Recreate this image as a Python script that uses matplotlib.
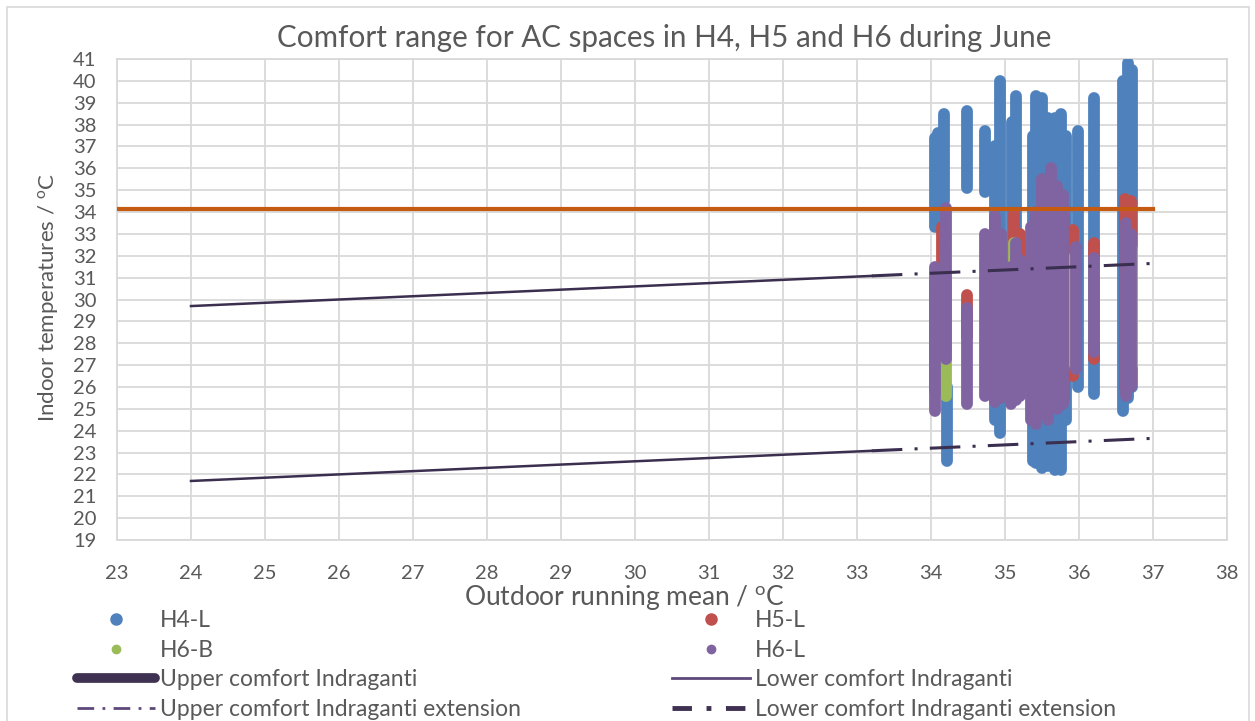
import matplotlib
matplotlib.use('Agg')
import matplotlib.pyplot as plt
from matplotlib.lines import Line2D
from matplotlib.patches import Rectangle

plt.rcParams['font.family'] = ['Lato', 'DejaVu Sans']
plt.rcParams['mathtext.fontset'] = 'custom'
plt.rcParams['mathtext.rm'] = 'Lato'
plt.rcParams['mathtext.it'] = 'Lato:italic'

TXT = '#595959'
GRID = '#d9d9d9'

# measured columns of points: x position, lowest and highest indoor temperature
h4l_x = [34.06, 34.10, 34.18, 34.22, 34.49, 34.73, 34.86, 34.93, 35.10, 35.15, 35.38,
         35.42, 35.50, 35.58, 35.68, 35.76, 35.82, 35.99, 36.20, 36.60, 36.66, 36.72]
h4l_lo = [33.3, 33.5, 34.5, 22.6, 35.1, 34.9, 24.5, 23.9, 25.5, 26.0, 22.6,
          22.5, 22.3, 22.4, 22.2, 22.2, 24.5, 26.0, 25.7, 24.9, 25.5, 26.0]
h4l_hi = [37.4, 37.6, 38.5, 26.0, 38.6, 37.7, 37.0, 40.0, 38.1, 39.3, 37.5,
          39.3, 39.2, 38.3, 38.3, 38.5, 37.5, 37.7, 39.2, 40.0, 40.8, 40.5]

h5l_x = [34.06, 34.15, 34.49, 34.75, 34.90, 35.12, 35.20, 35.55, 35.72, 35.80, 35.92, 36.20, 36.62, 36.70]
h5l_lo = [25.8, 26.5, 28.3, 27.0, 26.0, 25.5, 26.0, 25.0, 25.3, 25.5, 26.5, 27.3, 26.0, 26.2]
h5l_hi = [30.8, 33.3, 30.2, 32.9, 33.0, 33.9, 33.0, 34.8, 34.5, 33.8, 33.2, 32.6, 34.6, 34.5]

h6b_x = [34.12, 34.20, 34.78, 34.92, 35.12, 35.45, 35.65, 35.95, 36.20, 36.66, 36.72]
h6b_lo = [27.0, 25.6, 26.5, 26.2, 26.0, 25.5, 26.2, 27.0, 28.0, 26.5, 27.0]
h6b_hi = [30.0, 31.0, 32.5, 32.8, 32.6, 32.5, 33.0, 32.0, 31.8, 32.8, 32.3]

h6l_x = [34.06, 34.20, 34.49, 34.73, 34.87, 34.95, 35.08, 35.15, 35.20, 35.35, 35.42,
         35.50, 35.58, 35.62, 35.70, 35.78, 35.96, 36.20, 36.64, 36.70]
h6l_lo = [24.9, 27.3, 25.2, 25.6, 25.3, 25.5, 25.2, 25.4, 25.6, 24.5, 24.3,
          24.8, 24.5, 25.0, 25.0, 25.2, 26.8, 27.6, 25.6, 26.0]
h6l_hi = [31.5, 34.2, 29.6, 33.0, 33.8, 33.0, 31.5, 32.6, 31.8, 33.3, 34.0,
          35.5, 35.2, 36.0, 35.2, 34.8, 32.4, 31.9, 33.5, 33.0]

# comfort lines
orange_x = [23, 37]
orange_y = [34.14, 34.14]
comfort_x = [24, 33.2]
upper_y = [29.70, 31.08]
lower_y = [21.70, 23.08]
ext_x = [33.2, 37]
upper_ext_y = [31.08, 31.65]
lower_ext_y = [23.08, 23.65]

series = [
    ('H4-L', '#4f81bd', h4l_x, h4l_lo, h4l_hi),
    ('H5-L', '#c0504d', h5l_x, h5l_lo, h5l_hi),
    ('H6-B', '#9bbb59', h6b_x, h6b_lo, h6b_hi),
    ('H6-L', '#8064a2', h6l_x, h6l_lo, h6l_hi),
]

fig = plt.figure(figsize=(12.55, 7.21), dpi=100)
fig.patches.append(Rectangle((7 / 1255, -0.02), 1242 / 1255, 1 - 7 / 721 + 0.02,
                             transform=fig.transFigure, fill=False, ec=GRID, lw=1.2))
ax = fig.add_axes([117 / 1255, 1 - 540 / 721, 1110 / 1255, 481 / 721])

for name, col, xs, lo, hi in series:
    for x, a, b in zip(xs, lo, hi):
        ax.plot([x, x], [a, b], color=col, lw=8.5, solid_capstyle='round', zorder=3)

ax.plot(orange_x, orange_y, color='#c55a11', lw=3, zorder=4)
ax.plot(comfort_x, upper_y, color='#3b2f4f', lw=1.8, zorder=5)
ax.plot(comfort_x, lower_y, color='#3b2f4f', lw=1.8, zorder=5)
ax.plot(ext_x, upper_ext_y, color='#3b2f4f', lw=2.2, zorder=5, dashes=(10, 4, 1, 4))
ax.plot(ext_x, lower_ext_y, color='#3b2f4f', lw=2.2, zorder=5, dashes=(10, 4, 1, 4))

ax.set_xlim(23, 38)
ax.set_ylim(19, 41)
ax.set_xticks(range(23, 39))
ax.set_yticks(range(19, 42))
ax.grid(True, color=GRID, lw=1.3, zorder=0)
ax.set_axisbelow(True)
for s in ax.spines.values():
    s.set_color(GRID)
    s.set_linewidth(1.3)
ax.tick_params(length=0, labelsize=14.5, colors=TXT)
ax.tick_params(axis='y', pad=15)
ax.tick_params(axis='x', pad=18)

fig.text(664 / 1255, 1 - 38 / 721, 'Comfort range for AC spaces in H4, H5 and H6 during June',
         ha='center', va='center', fontsize=21.3, color=TXT)
fig.text(624 / 1255, 1 - 597 / 721, r'Outdoor running mean / $^\mathrm{o}$C',
         ha='center', va='center', fontsize=19, color=TXT)
fig.text(48 / 1255, 1 - 298 / 721, r'Indoor temperatures / $^\mathrm{o}$C',
         ha='center', va='center', rotation=90, fontsize=16, color=TXT)

left_handles = [
    Line2D([], [], ls='none', marker='o', ms=8, color='#4f81bd'),
    Line2D([], [], ls='none', marker='o', ms=6, color='#9bbb59'),
    Line2D([], [], color='#3f3151', lw=7, solid_capstyle='round'),
    Line2D([], [], color='#5f497a', lw=2, dashes=(6, 3, 1, 3)),
]
left_labels = ['H4-L', 'H6-B', 'Upper comfort Indraganti', 'Upper comfort Indraganti extension']
right_handles = [
    Line2D([], [], ls='none', marker='o', ms=8, color='#c0504d'),
    Line2D([], [], ls='none', marker='o', ms=6, color='#8064a2'),
    Line2D([], [], color='#5f497a', lw=2),
    Line2D([], [], color='#3f3151', lw=3.5, dashes=(4, 3, 1, 3)),
]
right_labels = ['H5-L', 'H6-L', 'Lower comfort Indraganti', 'Lower comfort Indraganti extension']

leg_kw = dict(frameon=False, fontsize=16.5, handlelength=3.4, handletextpad=0.22,
              labelspacing=0.38, borderpad=0, borderaxespad=0, labelcolor=TXT, numpoints=1)
fig.legend(left_handles, left_labels, loc='upper left',
           bbox_to_anchor=(77 / 1255, 1 - 610 / 721), **leg_kw)
fig.legend(right_handles, right_labels, loc='upper left',
           bbox_to_anchor=(672 / 1255, 1 - 610 / 721), **leg_kw)

fig.savefig('out.png', dpi=100)
